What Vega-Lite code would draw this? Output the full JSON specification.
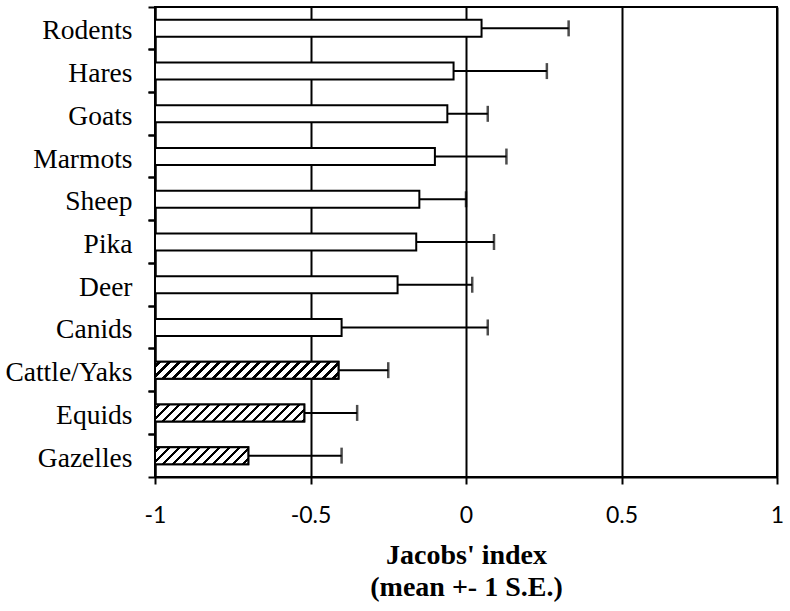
{
  "$schema": "https://vega.github.io/schema/vega-lite/v6.json",
  "width": 622,
  "height": 470,
  "autosize": {"type": "none"},
  "padding": {"left": 155, "top": 7, "right": 13, "bottom": 134},
  "background": "white",
  "config": {
    "view": {"stroke": "black", "strokeWidth": 2},
    "axis": {"domainColor": "black", "domainWidth": 2, "tickColor": "black", "tickWidth": 2, "labelColor": "black", "titleColor": "black"}
  },
  "data": {
    "values": [
      {"species": "Rodents", "mean": 0.05, "upper": 0.33},
      {"species": "Hares", "mean": -0.04, "upper": 0.26},
      {"species": "Goats", "mean": -0.06, "upper": 0.07},
      {"species": "Marmots", "mean": -0.10, "upper": 0.13},
      {"species": "Sheep", "mean": -0.15, "upper": 0.0},
      {"species": "Pika", "mean": -0.16, "upper": 0.09},
      {"species": "Deer", "mean": -0.22, "upper": 0.02},
      {"species": "Canids", "mean": -0.40, "upper": 0.07},
      {"species": "Cattle/Yaks", "mean": -0.41, "upper": -0.25},
      {"species": "Equids", "mean": -0.52, "upper": -0.35},
      {"species": "Gazelles", "mean": -0.70, "upper": -0.40}
    ]
  },
  "resolve": {"axis": {"y": "independent"}},
  "layer": [
    {
      "mark": {"type": "bar", "size": 17, "fill": "white", "stroke": "black", "strokeWidth": 2},
      "encoding": {
        "y": {"field": "species", "type": "nominal", "sort": null,
          "scale": {"domain": ["Rodents","Hares","Goats","Marmots","Sheep","Pika","Deer","Canids","Cattle/Yaks","Equids","Gazelles"], "paddingInner": 0, "paddingOuter": 0},
          "axis": {"orient": "left", "title": null, "ticks": false, "labelPadding": 23, "labelOffset": 3, "labelFont": "Liberation Serif", "labelFontSize": 27.5, "domain": true, "grid": false}},
        "x": {"field": "mean", "type": "quantitative",
          "scale": {"domain": [-1, 1], "nice": false, "zero": false},
          "axis": {"values": [-1, -0.5, 0, 0.5, 1], "labelExpr": "'' + datum.value", "grid": true, "gridColor": "black", "gridWidth": 2, "gridOpacity": 1,
            "tickSize": 7, "labelPadding": 20, "labelFont": "Lato", "labelFontSize": 23, "labelFlush": false,
            "title": ["Jacobs' index", "(mean +- 1 S.E.)"], "titleFont": "Liberation Serif", "titleFontWeight": "bold", "titleFontSize": 28, "titleLineHeight": 32, "titlePadding": 14}},
        "x2": {"datum": -1}
      }
    },
    {
      "transform": [{"filter": "datum.species === 'Cattle/Yaks'"}],
      "mark": {"type": "bar", "size": 17, "stroke": "black", "strokeWidth": 2,
        "fill": {"gradient": "linear", "x1": 0, "y1": 0, "x2": 1.0834, "y2": 0.1004, "stops": [
          {"offset": 0, "color": "#fff"},
          {"offset": 0.01496, "color": "#fff"}, {"offset": 0.01496, "color": "#000"}, {"offset": 0.03242, "color": "#000"}, {"offset": 0.03242, "color": "#fff"},
          {"offset": 0.06484, "color": "#fff"}, {"offset": 0.06484, "color": "#000"}, {"offset": 0.08229, "color": "#000"}, {"offset": 0.08229, "color": "#fff"},
          {"offset": 0.11471, "color": "#fff"}, {"offset": 0.11471, "color": "#000"}, {"offset": 0.13217, "color": "#000"}, {"offset": 0.13217, "color": "#fff"},
          {"offset": 0.16459, "color": "#fff"}, {"offset": 0.16459, "color": "#000"}, {"offset": 0.18204, "color": "#000"}, {"offset": 0.18204, "color": "#fff"},
          {"offset": 0.21446, "color": "#fff"}, {"offset": 0.21446, "color": "#000"}, {"offset": 0.23192, "color": "#000"}, {"offset": 0.23192, "color": "#fff"},
          {"offset": 0.26434, "color": "#fff"}, {"offset": 0.26434, "color": "#000"}, {"offset": 0.28180, "color": "#000"}, {"offset": 0.28180, "color": "#fff"},
          {"offset": 0.31421, "color": "#fff"}, {"offset": 0.31421, "color": "#000"}, {"offset": 0.33167, "color": "#000"}, {"offset": 0.33167, "color": "#fff"},
          {"offset": 0.36409, "color": "#fff"}, {"offset": 0.36409, "color": "#000"}, {"offset": 0.38155, "color": "#000"}, {"offset": 0.38155, "color": "#fff"},
          {"offset": 0.41397, "color": "#fff"}, {"offset": 0.41397, "color": "#000"}, {"offset": 0.43142, "color": "#000"}, {"offset": 0.43142, "color": "#fff"},
          {"offset": 0.46384, "color": "#fff"}, {"offset": 0.46384, "color": "#000"}, {"offset": 0.48130, "color": "#000"}, {"offset": 0.48130, "color": "#fff"},
          {"offset": 0.51372, "color": "#fff"}, {"offset": 0.51372, "color": "#000"}, {"offset": 0.53117, "color": "#000"}, {"offset": 0.53117, "color": "#fff"},
          {"offset": 0.56359, "color": "#fff"}, {"offset": 0.56359, "color": "#000"}, {"offset": 0.58105, "color": "#000"}, {"offset": 0.58105, "color": "#fff"},
          {"offset": 0.61347, "color": "#fff"}, {"offset": 0.61347, "color": "#000"}, {"offset": 0.63092, "color": "#000"}, {"offset": 0.63092, "color": "#fff"},
          {"offset": 0.66334, "color": "#fff"}, {"offset": 0.66334, "color": "#000"}, {"offset": 0.68080, "color": "#000"}, {"offset": 0.68080, "color": "#fff"},
          {"offset": 0.71322, "color": "#fff"}, {"offset": 0.71322, "color": "#000"}, {"offset": 0.73067, "color": "#000"}, {"offset": 0.73067, "color": "#fff"},
          {"offset": 0.76309, "color": "#fff"}, {"offset": 0.76309, "color": "#000"}, {"offset": 0.78055, "color": "#000"}, {"offset": 0.78055, "color": "#fff"},
          {"offset": 0.81297, "color": "#fff"}, {"offset": 0.81297, "color": "#000"}, {"offset": 0.83042, "color": "#000"}, {"offset": 0.83042, "color": "#fff"},
          {"offset": 0.86284, "color": "#fff"}, {"offset": 0.86284, "color": "#000"}, {"offset": 0.88030, "color": "#000"}, {"offset": 0.88030, "color": "#fff"},
          {"offset": 0.91272, "color": "#fff"}, {"offset": 0.91272, "color": "#000"}, {"offset": 0.93017, "color": "#000"}, {"offset": 0.93017, "color": "#fff"},
          {"offset": 0.96259, "color": "#fff"}, {"offset": 0.96259, "color": "#000"}, {"offset": 0.98005, "color": "#000"}, {"offset": 0.98005, "color": "#fff"},
          {"offset": 1, "color": "#fff"}
        ]}},
      "encoding": {
        "y": {"field": "species", "type": "nominal", "sort": null, "axis": null},
        "x": {"field": "mean", "type": "quantitative"},
        "x2": {"datum": -1}
      }
    },
    {
      "transform": [{"filter": "datum.species === 'Equids'"}],
      "mark": {"type": "bar", "size": 17, "stroke": "black", "strokeWidth": 2,
        "fill": {"gradient": "linear", "x1": 0, "y1": 0, "x2": 1.0996, "y2": 0.1252, "stops": [
          {"offset": 0, "color": "#fff"},
          {"offset": 0.01804, "color": "#fff"}, {"offset": 0.01804, "color": "#000"}, {"offset": 0.03909, "color": "#000"}, {"offset": 0.03909, "color": "#fff"},
          {"offset": 0.07817, "color": "#fff"}, {"offset": 0.07817, "color": "#000"}, {"offset": 0.09922, "color": "#000"}, {"offset": 0.09922, "color": "#fff"},
          {"offset": 0.13830, "color": "#fff"}, {"offset": 0.13830, "color": "#000"}, {"offset": 0.15935, "color": "#000"}, {"offset": 0.15935, "color": "#fff"},
          {"offset": 0.19844, "color": "#fff"}, {"offset": 0.19844, "color": "#000"}, {"offset": 0.21948, "color": "#000"}, {"offset": 0.21948, "color": "#fff"},
          {"offset": 0.25857, "color": "#fff"}, {"offset": 0.25857, "color": "#000"}, {"offset": 0.27961, "color": "#000"}, {"offset": 0.27961, "color": "#fff"},
          {"offset": 0.31870, "color": "#fff"}, {"offset": 0.31870, "color": "#000"}, {"offset": 0.33975, "color": "#000"}, {"offset": 0.33975, "color": "#fff"},
          {"offset": 0.37883, "color": "#fff"}, {"offset": 0.37883, "color": "#000"}, {"offset": 0.39988, "color": "#000"}, {"offset": 0.39988, "color": "#fff"},
          {"offset": 0.43896, "color": "#fff"}, {"offset": 0.43896, "color": "#000"}, {"offset": 0.46001, "color": "#000"}, {"offset": 0.46001, "color": "#fff"},
          {"offset": 0.49910, "color": "#fff"}, {"offset": 0.49910, "color": "#000"}, {"offset": 0.52014, "color": "#000"}, {"offset": 0.52014, "color": "#fff"},
          {"offset": 0.55923, "color": "#fff"}, {"offset": 0.55923, "color": "#000"}, {"offset": 0.58027, "color": "#000"}, {"offset": 0.58027, "color": "#fff"},
          {"offset": 0.61936, "color": "#fff"}, {"offset": 0.61936, "color": "#000"}, {"offset": 0.64041, "color": "#000"}, {"offset": 0.64041, "color": "#fff"},
          {"offset": 0.67949, "color": "#fff"}, {"offset": 0.67949, "color": "#000"}, {"offset": 0.70054, "color": "#000"}, {"offset": 0.70054, "color": "#fff"},
          {"offset": 0.73962, "color": "#fff"}, {"offset": 0.73962, "color": "#000"}, {"offset": 0.76067, "color": "#000"}, {"offset": 0.76067, "color": "#fff"},
          {"offset": 0.79976, "color": "#fff"}, {"offset": 0.79976, "color": "#000"}, {"offset": 0.82080, "color": "#000"}, {"offset": 0.82080, "color": "#fff"},
          {"offset": 0.85989, "color": "#fff"}, {"offset": 0.85989, "color": "#000"}, {"offset": 0.88093, "color": "#000"}, {"offset": 0.88093, "color": "#fff"},
          {"offset": 0.92002, "color": "#fff"}, {"offset": 0.92002, "color": "#000"}, {"offset": 0.94107, "color": "#000"}, {"offset": 0.94107, "color": "#fff"},
          {"offset": 0.98015, "color": "#fff"}, {"offset": 0.98015, "color": "#000"}, {"offset": 1, "color": "#000"}
        ]}},
      "encoding": {
        "y": {"field": "species", "type": "nominal", "sort": null, "axis": null},
        "x": {"field": "mean", "type": "quantitative"},
        "x2": {"datum": -1}
      }
    },
    {
      "transform": [{"filter": "datum.species === 'Gazelles'"}],
      "mark": {"type": "bar", "size": 17, "stroke": "black", "strokeWidth": 2,
        "fill": {"gradient": "linear", "x1": 0, "y1": 0, "x2": 1.1442, "y2": 0.2085, "stops": [
          {"offset": 0, "color": "#fff"},
          {"offset": 0.02720, "color": "#fff"}, {"offset": 0.02720, "color": "#000"}, {"offset": 0.05893, "color": "#000"}, {"offset": 0.05893, "color": "#fff"},
          {"offset": 0.11786, "color": "#fff"}, {"offset": 0.11786, "color": "#000"}, {"offset": 0.14959, "color": "#000"}, {"offset": 0.14959, "color": "#fff"},
          {"offset": 0.20852, "color": "#fff"}, {"offset": 0.20852, "color": "#000"}, {"offset": 0.24025, "color": "#000"}, {"offset": 0.24025, "color": "#fff"},
          {"offset": 0.29918, "color": "#fff"}, {"offset": 0.29918, "color": "#000"}, {"offset": 0.33092, "color": "#000"}, {"offset": 0.33092, "color": "#fff"},
          {"offset": 0.38985, "color": "#fff"}, {"offset": 0.38985, "color": "#000"}, {"offset": 0.42158, "color": "#000"}, {"offset": 0.42158, "color": "#fff"},
          {"offset": 0.48051, "color": "#fff"}, {"offset": 0.48051, "color": "#000"}, {"offset": 0.51224, "color": "#000"}, {"offset": 0.51224, "color": "#fff"},
          {"offset": 0.57117, "color": "#fff"}, {"offset": 0.57117, "color": "#000"}, {"offset": 0.60290, "color": "#000"}, {"offset": 0.60290, "color": "#fff"},
          {"offset": 0.66183, "color": "#fff"}, {"offset": 0.66183, "color": "#000"}, {"offset": 0.69357, "color": "#000"}, {"offset": 0.69357, "color": "#fff"},
          {"offset": 0.75249, "color": "#fff"}, {"offset": 0.75249, "color": "#000"}, {"offset": 0.78423, "color": "#000"}, {"offset": 0.78423, "color": "#fff"},
          {"offset": 0.84316, "color": "#fff"}, {"offset": 0.84316, "color": "#000"}, {"offset": 0.87489, "color": "#000"}, {"offset": 0.87489, "color": "#fff"},
          {"offset": 0.93382, "color": "#fff"}, {"offset": 0.93382, "color": "#000"}, {"offset": 0.96555, "color": "#000"}, {"offset": 0.96555, "color": "#fff"},
          {"offset": 1, "color": "#fff"}
        ]}},
      "encoding": {
        "y": {"field": "species", "type": "nominal", "sort": null, "axis": null},
        "x": {"field": "mean", "type": "quantitative"},
        "x2": {"datum": -1}
      }
    },
    {
      "mark": {"type": "rule", "color": "black", "strokeWidth": 2},
      "encoding": {
        "y": {"field": "species", "type": "nominal", "sort": null,
          "axis": {"orient": "left", "title": null, "labels": false, "domain": false, "grid": false, "ticks": true, "tickSize": 7, "bandPosition": 0}},
        "x": {"field": "mean", "type": "quantitative"},
        "x2": {"field": "upper"}
      }
    },
    {
      "mark": {"type": "tick", "color": "black", "size": 16, "thickness": 2.5},
      "encoding": {
        "y": {"field": "species", "type": "nominal", "sort": null,
          "axis": {"orient": "left", "title": null, "labels": false, "domain": false, "grid": false, "ticks": true, "tickSize": 7, "bandPosition": 1}},
        "x": {"field": "upper", "type": "quantitative"}
      }
    }
  ]
}
